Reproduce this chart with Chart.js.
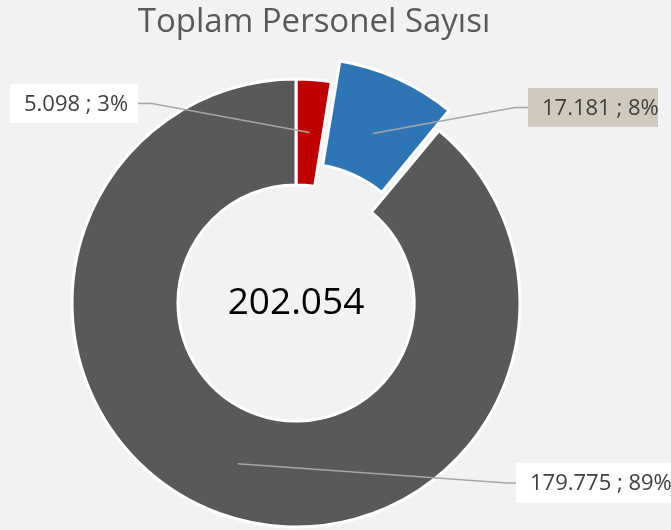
<!DOCTYPE html>
<html>
<head>
<meta charset="utf-8">
<script src="https://cdn.jsdelivr.net/npm/chart.js@4.4.1/dist/chart.umd.min.js"></script>
<style>
  html, body { margin: 0; padding: 0; background: #f2f2f2; overflow: hidden; }
  #wrap { position: relative; width: 671px; height: 560px; }
</style>
</head>
<body>
<div id="wrap"><canvas id="personelChart"></canvas></div>
<script>
// values
const categories = ['Grup 1', 'Grup 2', 'Grup 3'];
const personelCounts = [5098, 17181, 179775];
const percentLabels = ['3%', '8%', '89%'];
const valueLabels = ['5.098', '17.181', '179.775'];
const totalLabel = '202.054';
const titleText = 'Toplam Personel Sayısı';

const sliceColors = ['#c00000', '#2e75b6', '#595959'];
// chart.js moves an arc by offset / 4
const sliceOffsets = [0, 60, 0];

// where the callout boxes sit
const calloutBoxes = [
  { x: 10, y: 84, w: 128, h: 39, elbowX: 152, fill: '#ffffff', side: 'left' },
  { x: 528, y: 88, w: 130, h: 39, elbowX: 515, fill: '#d0c9bd', side: 'right' },
  { x: 516, y: 463, w: 160, h: 40, elbowX: 507, fill: '#ffffff', side: 'right' },
];

const fontFamily = '"Open Sans", "Noto Sans", sans-serif';

const decorPlugin = {
  id: 'decor',
  afterDatasetsDraw(chart) {
    const ctx = chart.ctx;
    const meta = chart.getDatasetMeta(0);
    ctx.save();

    // title
    ctx.fillStyle = '#595959';
    ctx.font = '400 33px ' + fontFamily;
    ctx.textAlign = 'center';
    ctx.textBaseline = 'alphabetic';
    ctx.fillText(titleText, 314, 32);

    // total in the hole
    ctx.fillStyle = '#000000';
    ctx.font = '400 37px ' + fontFamily;
    ctx.textBaseline = 'middle';
    ctx.fillText(totalLabel, meta.data[0].x, meta.data[0].y);

    // callouts
    meta.data.forEach((arc, i) => {
      const p = arc.getProps(['x', 'y', 'startAngle', 'endAngle', 'innerRadius', 'outerRadius']);
      const mid = (p.startAngle + p.endAngle) / 2;
      const r = (p.innerRadius + p.outerRadius) / 2 + sliceOffsets[i] / 4;
      const ax = p.x + Math.cos(mid) * r;
      const ay = p.y + Math.sin(mid) * r;
      const box = calloutBoxes[i];
      const edgeX = box.side === 'left' ? box.x + box.w : box.x;
      const midY = box.y + box.h / 2;

      ctx.strokeStyle = '#a6a6a6';
      ctx.lineWidth = 1.5;
      ctx.beginPath();
      ctx.moveTo(ax, ay);
      ctx.lineTo(box.elbowX, midY);
      ctx.lineTo(edgeX, midY);
      ctx.stroke();

      ctx.fillStyle = box.fill;
      ctx.fillRect(box.x, box.y, box.w, box.h);

      ctx.fillStyle = '#404040';
      ctx.font = '400 22px ' + fontFamily;
      ctx.textAlign = 'left';
      ctx.textBaseline = 'middle';
      const txt = valueLabels[i] + ' ; ' + percentLabels[i];
      ctx.fillText(txt, box.x + 14, midY + 1);
    });

    ctx.restore();
  }
};

new Chart(document.getElementById('personelChart'), {
  type: 'doughnut',
  data: {
    labels: categories,
    datasets: [{
      data: personelCounts,
      backgroundColor: sliceColors,
      borderColor: '#ffffff',
      borderWidth: 3,
      offset: sliceOffsets,
    }],
  },
  options: {
    responsive: true,
    maintainAspectRatio: false,
    animation: false,
    cutout: '52.7%',
    layout: {
      padding: { left: 40.5, right: 119.5, top: 47.5, bottom: 1.5 },
    },
    plugins: {
      legend: { display: false },
      tooltip: { enabled: false },
      title: { display: false },
    },
  },
  plugins: [decorPlugin],
});
</script>
</body>
</html>
